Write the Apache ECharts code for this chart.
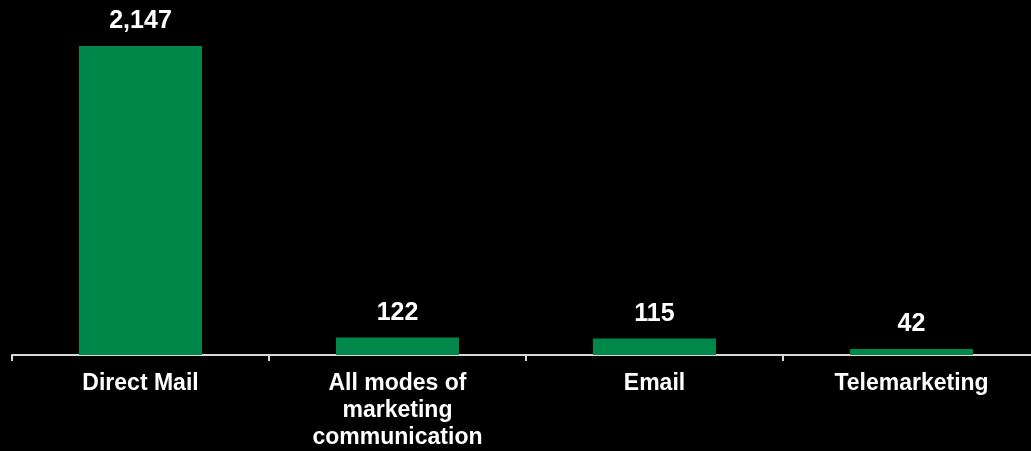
<!DOCTYPE html>
<html>
<head>
<meta charset="utf-8">
<style>
  html, body { margin: 0; padding: 0; background: #000; overflow: hidden; }
  /* the plot's axis runs past the right edge of the window */
  #chart { width: 1040px; height: 451px; }
</style>
<script src="https://cdn.jsdelivr.net/npm/echarts@6/dist/echarts.min.js"></script>
</head>
<body>
<div id="chart"></div>
<script>
// Responses by marketing channel
const categories = ['Direct Mail', 'All modes of\nmarketing\ncommunication', 'Email', 'Telemarketing'];
const responses = [2147, 122, 115, 42];

const chart = echarts.init(document.getElementById('chart'));
chart.setOption({
  backgroundColor: '#000000',
  animation: false,
  grid: { left: 12, right: 0, top: 9.5, bottom: 95, containLabel: false },
  xAxis: {
    type: 'category',
    data: categories,
    axisLine: { show: true, lineStyle: { color: '#d9d9d9', width: 2 } },
    axisTick: { show: true, length: 6, lineStyle: { color: '#d9d9d9', width: 2 } },
    axisLabel: {
      color: '#ffffff',
      fontFamily: 'Liberation Sans, Arial, sans-serif',
      fontWeight: 'bold',
      fontSize: 23,
      lineHeight: 27,
      margin: 15,
      interval: 0
    }
  },
  yAxis: {
    type: 'value',
    min: 0,
    max: 2400,
    show: false,
    splitLine: { show: false }
  },
  series: [{
    type: 'bar',
    data: responses,
    barWidth: 123,
    itemStyle: { color: '#00884a' },
    label: {
      show: true,
      position: 'top',
      distance: 12,
      color: '#ffffff',
      fontFamily: 'Liberation Sans, Arial, sans-serif',
      fontWeight: 'bold',
      fontSize: 25,
      formatter: p => p.value.toLocaleString('en-US')
    }
  }]
});
</script>
</body>
</html>
